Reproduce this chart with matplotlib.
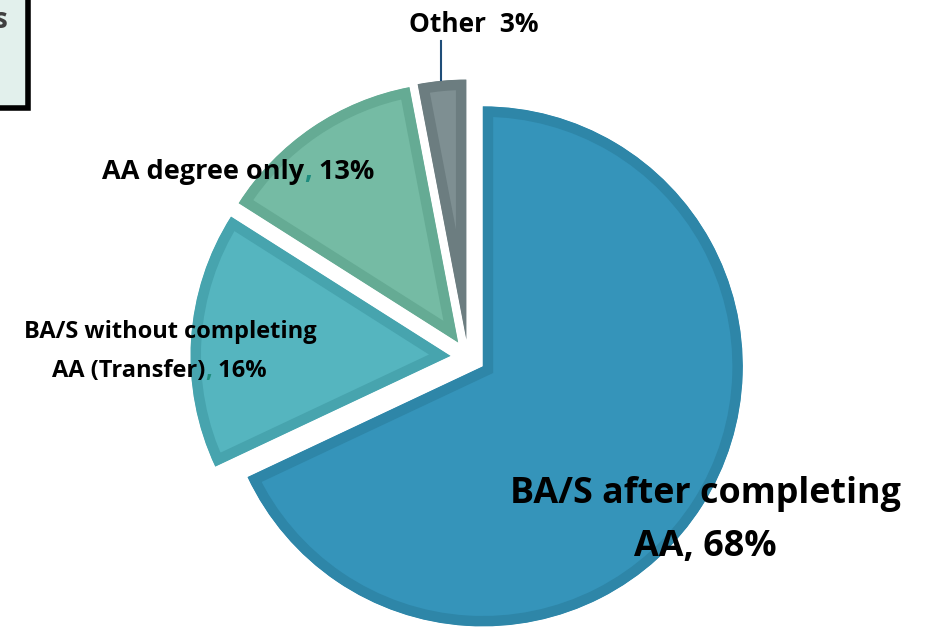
import matplotlib.pyplot as plt
from matplotlib.patches import Rectangle

# Data
labels = ['BA/S after completing AA', 'BA/S without completing AA (Transfer)',
          'AA degree only', 'Other']
shares = [68, 16, 13, 3]
fill_colors = ['#3594BA', '#55B5BF', '#75BBA4', '#7E8F92']
band_colors = ['#2E86A8', '#47A4AE', '#65AB94', '#6C7D80']

W, H = 930, 631
fig = plt.figure(figsize=(W / 100, H / 100), dpi=100)
ax = fig.add_axes([0, 0, 1, 1])


# image y -> data y
def iy(y):
    return H - y


radius = 260
cx, cy = 468, iy(357)

# explode is in data units here (pixels)
wedges, _ = ax.pie(shares, startangle=90, counterclock=False,
                   explode=[17.5] * 4, radius=radius, center=(cx, cy),
                   colors=fill_colors, frame=True)
ax.set_xlim(0, W)
ax.set_ylim(0, H)
ax.set_aspect('equal')
ax.axis('off')

# darker inner band on each slice (stroke clipped to the slice itself)
for w, bc in zip(wedges, band_colors):
    w.set_edgecolor(bc)
    w.set_linewidth(15)
    w.set_joinstyle('miter')
    w.set_clip_on(True)
    w.set_clip_path(w)

font = ['Open Sans', 'DejaVu Sans']
comma_color = '#1E8C7E'

# Other label with leader line
ax.plot([441, 441], [iy(41), iy(80)], color='#1F4E79', lw=1.5)
ax.text(474, iy(32), 'Other  3%', ha='center', va='baseline',
        fontsize=19, fontweight='bold', family=font)

# AA degree only
t = ax.text(102, iy(179), 'AA degree only', ha='left', va='baseline',
            fontsize=19.5, fontweight='bold', family=font)
t = ax.annotate(',', xy=(1, 0), xycoords=t, va='bottom', ha='left',
                fontsize=19.5, fontweight='bold', family=font,
                color=comma_color)
ax.annotate(' 13%', xy=(1, 0), xycoords=t, va='bottom', ha='left',
            fontsize=19.5, fontweight='bold', family=font)

# Transfer
ax.text(170, iy(338), 'BA/S without completing', ha='center',
        va='baseline', fontsize=17, fontweight='bold', family=font)
t = ax.text(52, iy(377), 'AA (Transfer)', ha='left', va='baseline',
            fontsize=17, fontweight='bold', family=font)
t = ax.annotate(',', xy=(1, 0), xycoords=t, va='bottom', ha='left',
                fontsize=17, fontweight='bold', family=font,
                color=comma_color)
ax.annotate(' 16%', xy=(1, 0), xycoords=t, va='bottom', ha='left',
            fontsize=17, fontweight='bold', family=font)

# Main slice
ax.text(705, iy(503), 'BA/S after completing', ha='center', va='baseline',
        fontsize=25.8, fontweight='bold', family=font)
ax.text(705, iy(556), 'AA, 68%', ha='center', va='baseline',
        fontsize=25.8, fontweight='bold', family=font)

# cut-off box in the top-left corner
ax.add_patch(Rectangle((-200, iy(108)), 228, 200, facecolor='#E2F0EC',
                       edgecolor='black', lw=4, zorder=5))
ax.text(7, iy(20), 's', ha='right', va='center', fontsize=20,
        fontweight='bold', family=font, color='#404040', zorder=6)

fig.savefig('out.png', dpi=100)
